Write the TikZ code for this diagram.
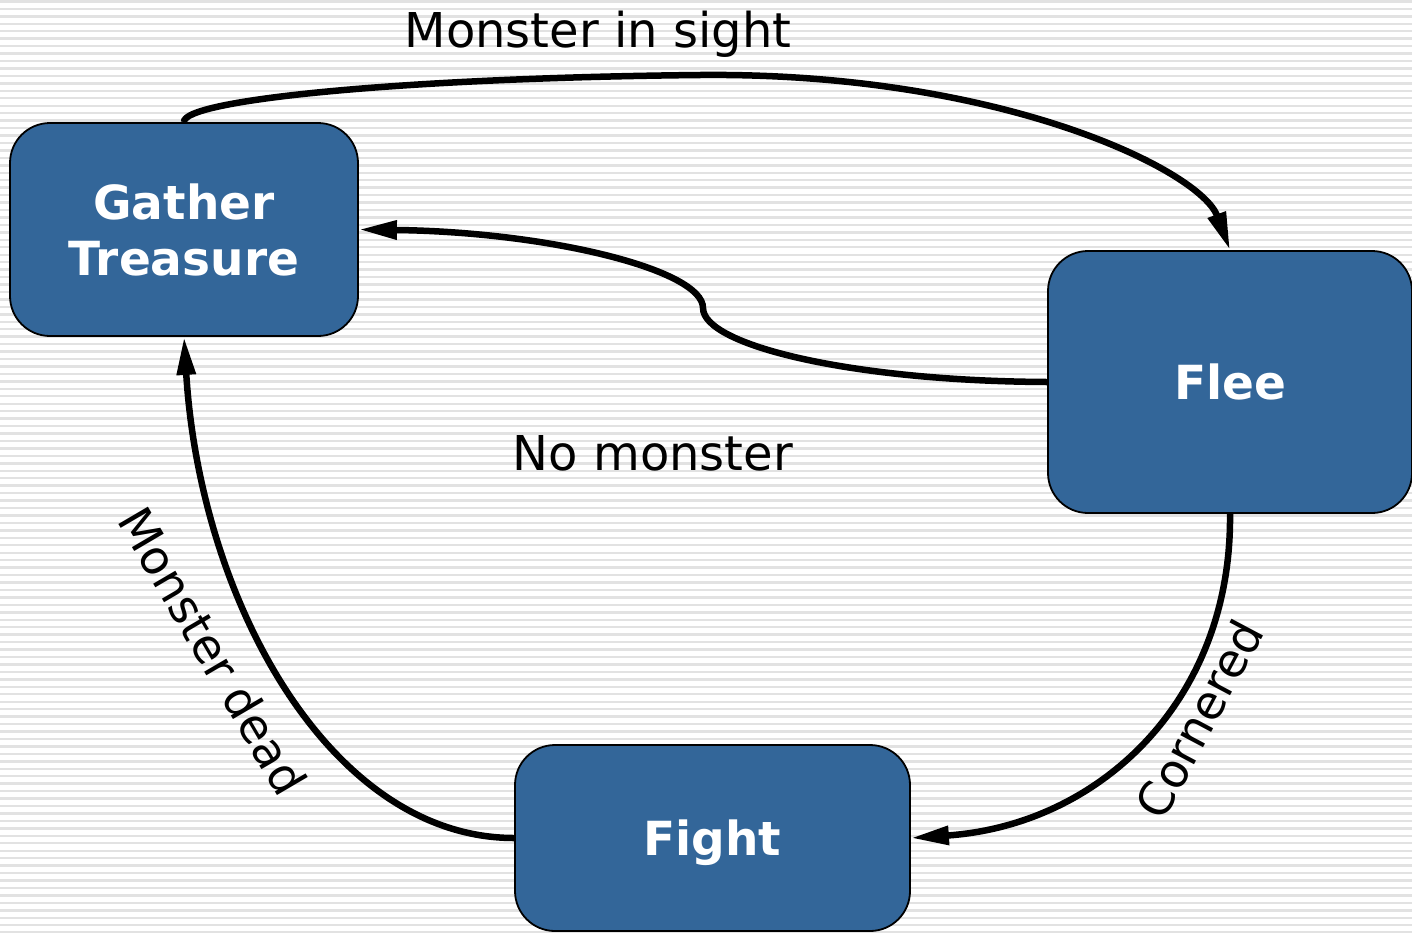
\documentclass[tikz,border=0pt]{standalone}
\usepackage{fontspec}
\setmainfont{DejaVu Sans}
\usetikzlibrary{arrows.meta}
\definecolor{statefill}{HTML}{336699}
\definecolor{stripe}{HTML}{E2E2E2}
\begin{document}
\begin{tikzpicture}[x=1pt,y=-1pt,
  state/.style={draw=black,line width=1.8pt,fill=statefill,rounded corners=40pt,
    text=white,align=center,inner sep=0pt,
    font=\bfseries\fontsize{47}{56}\selectfont},
  trans/.style={line width=6.5pt,-{Triangle[length=38pt,width=18pt]}},
  lbl/.style={inner sep=0pt,font=\fontsize{48}{56}\selectfont}]
  % striped backdrop
  \useasboundingbox (0,0) rectangle (1412,932);
  \fill[white] (0,0) rectangle (1412,932);
  \foreach \k in {0,...,125}{
    \fill[stripe] (0,{0.2+7.45*\k}) rectangle (1412,{2.6+7.45*\k});
  }
  % states
  \node[state,minimum width=348pt,minimum height=213pt] (gt) at (184,229.5) {Gather\\Treasure};
  \node[state,minimum width=364pt,minimum height=262pt] (flee) at (1230,382) {Flee};
  \node[state,minimum width=395pt,minimum height=186pt,text depth=0pt] (fight) at (712.5,838) {Fight};
  % transitions
  \draw[trans] (gt.north) .. controls (182,100) and (400,78) .. (700,75)
    .. controls (1000,72) and (1200,170) .. (flee.north);
  \draw[trans] (flee.west) .. controls (850,381) and (703,345) .. (703,308)
    .. controls (703,270) and (550,232) .. (gt.east);
  \draw[trans] (flee.south) .. controls (1232,700) and (1100,825) .. (fight.east);
  \draw[trans] (fight.west) .. controls (330,838) and (200,600) .. (gt.south);
  % transition labels
  \node[lbl,anchor=base] (l1) at (598,47) {Monster in sight};
  \node[lbl,anchor=base] (l2) at (653,470) {No monster};
  \node[lbl,rotate=-59.6,font=\fontsize{47}{56}\selectfont] (l3) at (213,651) {Monster dead};
  \node[lbl,rotate=62,font=\fontsize{47}{56}\selectfont] (l4) at (1199,719) {Cornered};
\end{tikzpicture}
\end{document}
